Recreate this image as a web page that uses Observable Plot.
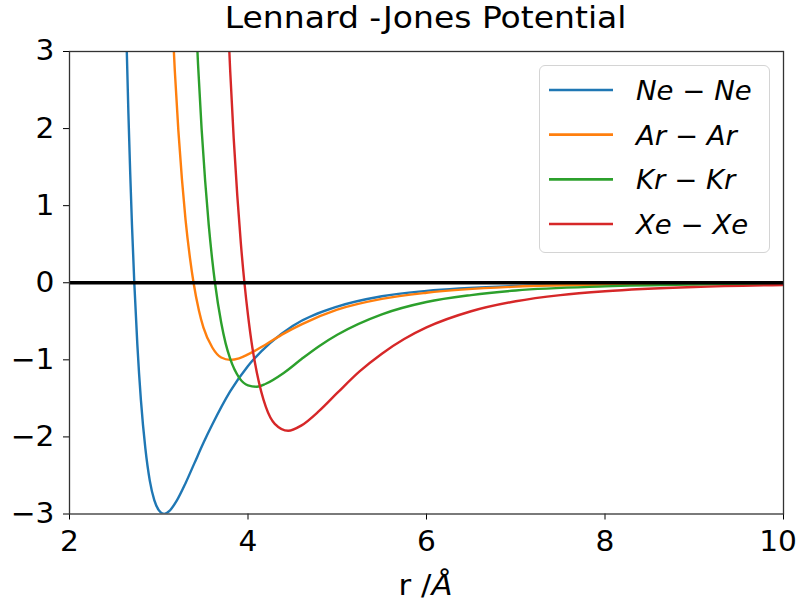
<!DOCTYPE html>
<html>
<head>
<meta charset="utf-8">
<script src="https://cdn.jsdelivr.net/npm/d3@7"></script>
<script src="https://cdn.jsdelivr.net/npm/@observablehq/plot@0.6"></script>
<style>
  body { margin: 0; background: #fff; font-family: "DejaVu Sans", sans-serif; color: #000; }
  #wrap { position: relative; width: 798px; height: 607px; overflow: hidden; background: #fff; }
  #title { position: absolute; z-index: 2; left: 69px; width: 714px; top: 0; height: 30px; line-height: 30px; text-align: center; font-size: 30px; white-space: nowrap; }
  #title span { display: inline-block; position: relative; top: 3px; transform: scaleX(1.1); transform-origin: center; }
  #xlabel span { display: inline-block; transform: scaleX(1.1); transform-origin: center; }
  #chart { position: absolute; z-index: 1; left: 0; top: 30px; }
  #xlabel { position: absolute; left: 69px; width: 714px; top: 565px; height: 42px; line-height: 42px; text-align: center; font-size: 28px; white-space: nowrap; }
  #legend { position: absolute; z-index: 3; left: 539px; top: 65px; width: 229px; height: 186px; border: 1px solid #d4d4d4; border-radius: 6px; background: rgba(255,255,255,0.8); }
</style>
</head>
<body>
<div id="wrap">
  <div id="title"><span>Lennard -Jones Potential</span></div>
  <div id="chart"></div>
  <div id="xlabel"><span>r /<i>Å</i></span></div>
  <div id="legend"></div>
</div>
<script>
// ---- data ----
const series = ["Ne", "Ar", "Kr", "Xe"];
const seriesLabels = ["Ne − Ne", "Ar − Ar", "Kr − Kr", "Xe − Xe"];
const seriesColors = ["#1f77b4", "#ff7f0e", "#2ca02c", "#d62728"];
const xTicks = [2, 4, 6, 8, 10];
const yTicks = [-3, -2, -1, 0, 1, 2, 3];

const neR = [2.62, 2.64, 2.66, 2.68, 2.70, 2.726, 2.76, 2.80, 2.85, 2.90, 2.95, 3.00, 3.06, 3.12, 3.20, 3.30, 3.40, 3.50, 3.60, 3.80, 4.00, 4.25, 4.50, 5.00, 5.50, 6.00, 7.00, 8.00, 10.00];
const neV = [4.09, 3.09, 2.20, 1.43, 0.75, 0.00, -0.80, -1.52, -2.15, -2.57, -2.82, -2.95, -3.00, -2.96, -2.83, -2.60, -2.34, -2.08, -1.84, -1.41, -1.08, -0.78, -0.56, -0.31, -0.175, -0.105, -0.042, -0.019, -0.005];

const arR = [3.14, 3.18, 3.22, 3.26, 3.30, 3.35, 3.39, 3.45, 3.50, 3.60, 3.70, 3.80, 3.90, 4.00, 4.20, 4.40, 4.60, 5.00, 5.50, 6.00, 7.00, 8.00, 10.00];
const arV = [3.70, 2.75, 1.97, 1.34, 0.82, 0.32, 0.00, -0.36, -0.58, -0.84, -0.97, -1.00, -0.98, -0.93, -0.80, -0.66, -0.54, -0.35, -0.21, -0.13, -0.05, -0.023, -0.006];

const krR = [3.40, 3.44, 3.48, 3.52, 3.56, 3.60, 3.63, 3.70, 3.75, 3.80, 3.90, 4.00, 4.10, 4.20, 4.40, 4.60, 4.80, 5.00, 5.50, 6.00, 6.50, 7.00, 8.00, 9.00, 10.00];
const krV = [3.85, 2.84, 2.00, 1.32, 0.75, 0.29, 0.00, -0.52, -0.79, -0.985, -1.23, -1.33, -1.35, -1.31, -1.17, -0.99, -0.82, -0.675, -0.41, -0.25, -0.16, -0.10, -0.047, -0.023, -0.012];

const xeR = [3.76, 3.80, 3.84, 3.88, 3.92, 3.96, 4.00, 4.05, 4.10, 4.20, 4.30, 4.45, 4.60, 4.80, 5.00, 5.25, 5.50, 5.75, 6.00, 6.50, 7.00, 7.50, 8.00, 9.00, 10.00];
const xeV = [3.82, 2.76, 1.87, 1.13, 0.51, 0.00, -0.42, -0.85, -1.17, -1.61, -1.83, -1.92, -1.85, -1.66, -1.43, -1.15, -0.92, -0.73, -0.58, -0.37, -0.24, -0.16, -0.11, -0.055, -0.03];

// ---- build table ----
const columns = [[neR, neV], [arR, arV], [krR, krV], [xeR, xeV]];
const data = [];
columns.forEach(([R, V], i) => R.forEach((r, j) => data.push({series: series[i], r, v: V[j]})));

const fmt = d => (d < 0 ? "\u2212" + (-d) : String(d));

const chart = Plot.plot({
  width: 798,
  height: 535,
  marginLeft: 69,
  marginRight: 15,
  marginTop: 21,
  marginBottom: 51.5,
  style: {fontFamily: "DejaVu Sans, sans-serif", fontSize: "28px", color: "#000", background: "transparent", overflow: "visible"},
  x: {domain: [2, 10], ticks: xTicks, tickSize: 6, tickPadding: 11, tickFormat: fmt, label: null},
  y: {domain: [-3, 3], ticks: yTicks, tickSize: 6, tickPadding: 9, tickFormat: fmt, label: null},
  color: {domain: series, range: seriesColors},
  marks: [
    Plot.line(data, {x: "r", y: "v", z: "series", stroke: "series", strokeWidth: 2.4, curve: "monotone-x", clip: true}),
    Plot.ruleY([0], {stroke: "#000", strokeWidth: 3.5}),
    Plot.frame({stroke: "#333", strokeWidth: 1.3})
  ]
});
document.getElementById("chart").appendChild(chart);

// stretch tick labels slightly to match the reference glyph proportions; keep them inside the page
chart.querySelectorAll("text").forEach(t => {
  const L = t.getComputedTextLength();
  if (L > 0) { t.setAttribute("textLength", L * 1.06); t.setAttribute("lengthAdjust", "spacingAndGlyphs"); }
  const b = t.getBoundingClientRect();
  if (b.right > 797) t.setAttribute("dx", -(b.right - 797));
});

// ---- legend ----
const ns = "http://www.w3.org/2000/svg";
const lg = document.createElementNS(ns, "svg");
lg.setAttribute("width", 229); lg.setAttribute("height", 186);
series.forEach((s, i) => {
  const cy = 24 + i * 44.67;
  const ln = document.createElementNS(ns, "line");
  ln.setAttribute("x1", 9); ln.setAttribute("x2", 73);
  ln.setAttribute("y1", cy); ln.setAttribute("y2", cy);
  ln.setAttribute("stroke", seriesColors[i]); ln.setAttribute("stroke-width", 2.6);
  lg.appendChild(ln);
  const tx = document.createElementNS(ns, "text");
  tx.setAttribute("x", 96); tx.setAttribute("y", cy + 10);
  tx.setAttribute("font-family", "DejaVu Sans, sans-serif");
  tx.setAttribute("font-size", 27);
  tx.setAttribute("font-style", "italic");
  tx.textContent = seriesLabels[i];
  lg.appendChild(tx);
});
document.getElementById("legend").appendChild(lg);
lg.querySelectorAll("text").forEach(t => {
  const L = t.getComputedTextLength();
  if (L > 0) { t.setAttribute("textLength", L * 1.02); t.setAttribute("lengthAdjust", "spacingAndGlyphs"); }
});
</script>
</body>
</html>
